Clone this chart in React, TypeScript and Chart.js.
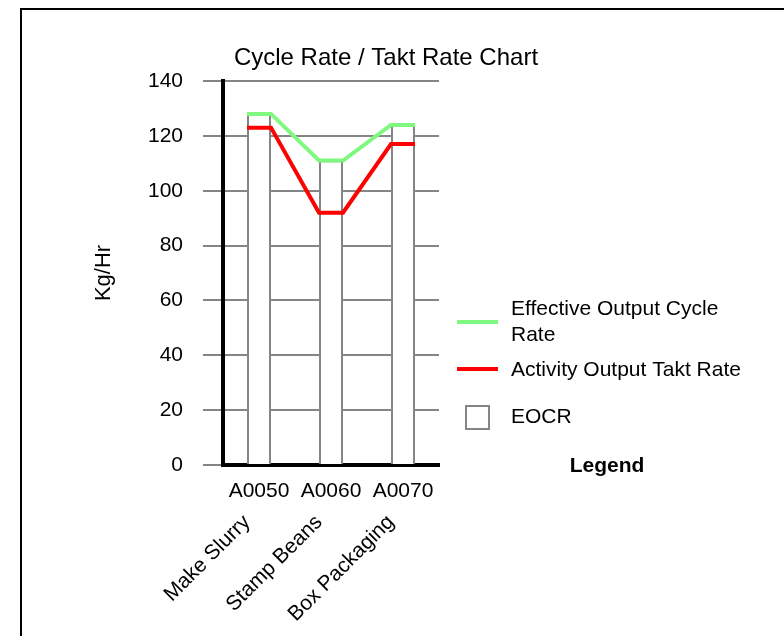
import React, { useEffect, useRef } from "react";
import { Chart, registerables } from "chart.js";

Chart.register(...registerables);

const chartTitle = "Cycle Rate / Takt Rate Chart";
const activityCodes = ["A0050", "A0060", "A0070"];
const activityNames = ["Make Slurry", "Stamp Beans", "Box Packaging"];
const effectiveOutputCycleRate = [128, 111, 124];
const activityOutputTaktRate = [123, 92, 117];
const yMin = 0;
const yMax = 140;
const yStep = 20;
const yAxisTitle = "Kg/Hr";
const legendTitle = "Legend";
const seriesLabels = ["Effective Output Cycle Rate", "Activity Output Takt Rate", "EOCR"];

const FONT = "'Liberation Sans', Arial, Helvetica, sans-serif";
const BAR_FRACTION = 1 / 3;
const GREEN = "#80f880";
const RED = "#ff0000";
const GRAY = "#858585";

function stepLine(values: number[]) {
  const half = BAR_FRACTION / 2;
  const pts: { x: number; y: number }[] = [];
  values.forEach((v, i) => {
    pts.push({ x: i - half, y: v });
    pts.push({ x: i + half, y: v });
  });
  return pts;
}

const decorPlugin = {
  id: "decor",
  afterDraw(chart: any) {
    const ctx = chart.ctx as CanvasRenderingContext2D;
    const a = chart.chartArea;
    ctx.save();
    // frame
    ctx.fillStyle = "#000";
    ctx.fillRect(20, 8, chart.width, 2);
    ctx.fillRect(20, 8, 2, chart.height);
    // title
    ctx.font = `24px ${FONT}`;
    ctx.textAlign = "center";
    ctx.textBaseline = "alphabetic";
    ctx.fillText(chartTitle, 386, 65);

    // legend
    const lx = a.right;
    ctx.font = `21px ${FONT}`;
    ctx.textAlign = "left";
    ctx.fillStyle = "#000";
    const ds = chart.data.datasets;
    ctx.strokeStyle = ds[0].borderColor;
    ctx.lineWidth = 4;
    ctx.beginPath();
    ctx.moveTo(lx + 18, 322);
    ctx.lineTo(lx + 59, 322);
    ctx.stroke();
    const words = String(ds[0].label).split(" ");
    ctx.fillText(words.slice(0, words.length - 1).join(" "), lx + 72, 315);
    ctx.fillText(words[words.length - 1], lx + 72, 341);
    ctx.strokeStyle = ds[1].borderColor;
    ctx.beginPath();
    ctx.moveTo(lx + 18, 369);
    ctx.lineTo(lx + 59, 369);
    ctx.stroke();
    ctx.fillText(String(ds[1].label), lx + 72, 376);
    ctx.strokeStyle = ds[2].borderColor;
    ctx.lineWidth = 2;
    ctx.fillStyle = "#fff";
    ctx.fillRect(lx + 27, 406, 23, 23);
    ctx.strokeRect(lx + 27, 406, 23, 23);
    ctx.fillStyle = "#000";
    ctx.fillText(String(ds[2].label), lx + 72, 423);
    ctx.font = `bold 21px ${FONT}`;
    ctx.textAlign = "center";
    ctx.fillText(legendTitle, lx + 168, 472);
    ctx.restore();
  },
};

export default function App() {
  const ref = useRef<HTMLCanvasElement>(null);

  useEffect(() => {
    if (!ref.current) return;
    const chart = new Chart(ref.current, {
      type: "bar",
      data: {
        labels: activityCodes,
        datasets: [
          {
            type: "line",
            label: seriesLabels[0],
            data: stepLine(effectiveOutputCycleRate) as any,
            xAxisID: "xl",
            yAxisID: "y",
            borderColor: GREEN,
            borderWidth: 4,
            pointRadius: 0,
            tension: 0,
            fill: false,
            order: 1,
          } as any,
          {
            type: "line",
            label: seriesLabels[1],
            data: stepLine(activityOutputTaktRate) as any,
            xAxisID: "xl",
            yAxisID: "y",
            borderColor: RED,
            borderWidth: 4,
            pointRadius: 0,
            tension: 0,
            fill: false,
            order: 1,
          } as any,
          {
            type: "bar",
            label: seriesLabels[2],
            data: effectiveOutputCycleRate,
            xAxisID: "x",
            yAxisID: "y",
            backgroundColor: "#ffffff",
            borderColor: GRAY,
            borderWidth: 2,
            borderSkipped: "bottom",
            grouped: false,
            categoryPercentage: 1,
            barPercentage: BAR_FRACTION,
            order: 2,
          } as any,
        ],
      },
      options: {
        animation: false,
        responsive: false,
        events: [],
        layout: { padding: { left: 88, right: 345, top: 81, bottom: 0 } },
        plugins: {
          legend: { display: false },
          title: { display: false },
          tooltip: { enabled: false },
        },
        scales: {
          x: {
            type: "category",
            labels: activityCodes,
            offset: true,
            position: "bottom",
            grid: { display: false, drawTicks: false },
            border: { display: true, color: "#000", width: 4 },
            ticks: { color: "#000", font: { family: FONT, size: 21 }, padding: 14, maxRotation: 0, minRotation: 0 },
            afterFit: (s: any) => { s.height = 42; },
          },
          x2: {
            type: "category",
            labels: activityNames,
            offset: true,
            position: "bottom",
            grid: { display: false, drawTicks: false },
            border: { display: false },
            ticks: { color: "#000", font: { family: FONT, size: 21 }, padding: 3, labelOffset: -12, maxRotation: 45, minRotation: 45 },
            afterFit: (s: any) => { s.height = 129; },
          },
          xl: {
            type: "linear",
            display: false,
            offset: false,
            grid: { offset: false },
            bounds: "data",
            min: -0.5,
            max: activityCodes.length - 0.5,
          },
          y: {
            min: yMin,
            max: yMax,
            grid: { color: GRAY, lineWidth: 2, tickLength: 20, drawTicks: true, tickColor: GRAY },
            border: { display: true, color: "#000", width: 4 },
            ticks: { stepSize: yStep, color: "#000", font: { family: FONT, size: 21 }, padding: 20 },
            title: {
              display: true,
              text: yAxisTitle,
              color: "#000",
              font: { family: FONT, size: 22 },
              padding: { top: 3, bottom: 0 },
            },
            afterFit: (s: any) => { s.width = 135; },
          },
        },
      } as any,
      plugins: [decorPlugin],
    });
    return () => chart.destroy();
  }, []);

  return (
    <div style={{ position: "absolute", left: 0, top: 0, width: 784, height: 636, background: "#fff", overflow: "hidden" }}>
      <canvas ref={ref} width={784} height={636} style={{ display: "block" }} />
    </div>
  );
}
